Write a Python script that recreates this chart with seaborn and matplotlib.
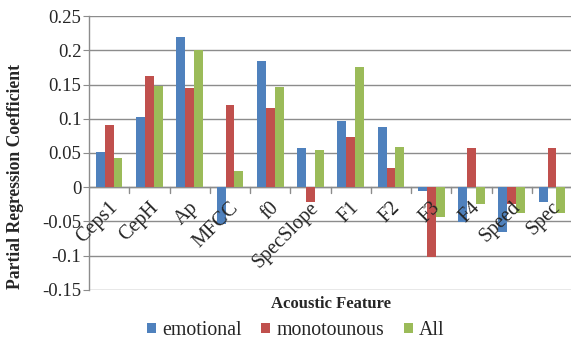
import numpy as np
import pandas as pd
import matplotlib
matplotlib.use("Agg")
import matplotlib.pyplot as plt
from matplotlib.patches import Patch
import seaborn as sns

features = ["Ceps1", "CepH", "Ap", "MFCC", "f0", "SpecSlope",
            "F1", "F2", "F3", "F4", "Speed", "Spec"]
emotional = [0.052, 0.102, 0.220, -0.054, 0.184, 0.057,
             0.097, 0.088, -0.006, -0.051, -0.066, -0.021]
monotonous = [0.091, 0.163, 0.145, 0.120, 0.115, -0.021,
              0.073, 0.028, -0.102, 0.057, -0.024, 0.057]
all_speech = [0.042, 0.148, 0.201, 0.024, 0.146, 0.055,
              0.176, 0.059, -0.044, -0.024, -0.038, -0.038]
series_names = ["emotional", "monotounous", "All"]
yticks = [-0.15, -0.1, -0.05, 0, 0.05, 0.1, 0.15, 0.2, 0.25]
ytick_labels = ["-0.15", "-0.1", "-0.05", "0", "0.05", "0.1", "0.15", "0.2", "0.25"]
colors = ["#4F81BD", "#C0504D", "#9BBB59"]

df = pd.DataFrame({
    "feature": features * 3,
    "series": np.repeat(series_names, len(features)),
    "value": emotional + monotonous + all_speech,
})

sns.set_style("white")
serif = ["Liberation Serif", "DejaVu Serif"]
plt.rcParams["font.family"] = serif

fig = plt.figure(figsize=(5.71, 3.43), dpi=100)
ax = fig.add_axes([0.156, 0.155, 0.846, 0.798])

sns.barplot(data=df, x="feature", y="value", hue="series",
            order=features, hue_order=series_names, palette=colors,
            width=0.66, gap=0, saturation=1, legend=False, ax=ax,
            edgecolor="none", linewidth=0, errorbar=None, zorder=3)

ax.set_xlim(-0.5, len(features) - 0.5)
ax.set_ylim(-0.15, 0.25)
ax.set_yticks(yticks)
ax.set_yticklabels(ytick_labels, fontsize=13.5)
ax.yaxis.grid(True, color="#8c8c8c", linewidth=1.0, zorder=0)
ax.set_axisbelow(True)

for side in ["top", "right", "bottom"]:
    ax.spines[side].set_visible(False)
ax.spines["left"].set_color("#8c8c8c")
ax.spines["left"].set_linewidth(1.0)
ax.tick_params(axis="y", length=4, color="#8c8c8c", pad=1.5, left=True)

# horizontal category axis crosses at zero, with ticks between categories
ax.axhline(0, color="#8c8c8c", linewidth=1.0, zorder=2)
ax.set_xticks([])
for b in np.arange(0.5, len(features) - 0.5, 1.0):
    ax.plot([b, b], [0, -0.009], color="#8c8c8c", lw=1.0, zorder=2,
            clip_on=False)

for i, name in enumerate(features):
    ax.text(i - 0.02, -0.016, name, rotation=45, ha="right", va="top",
            rotation_mode="anchor", fontsize=14.5)

ax.set_xlabel("")
ax.set_ylabel("")
fig.text(0.027, 0.484, "Partial Regression Coefficient", rotation=90,
         ha="center", va="center", fontsize=12.7, fontweight="bold")
fig.text(0.579, 0.113, "Acoustic Feature", ha="center", va="center",
         fontsize=12, fontweight="bold")

handles = [Patch(facecolor=c, edgecolor="none") for c in colors]
fig.legend(handles, series_names, loc="center", ncol=3,
           bbox_to_anchor=(0.518, 0.036), frameon=False,
           prop={"family": serif, "size": 14.3},
           handlelength=0.45, handleheight=0.45, handletextpad=0.3,
           columnspacing=1.0, borderpad=0)

fig.savefig("out.png", dpi=100)
